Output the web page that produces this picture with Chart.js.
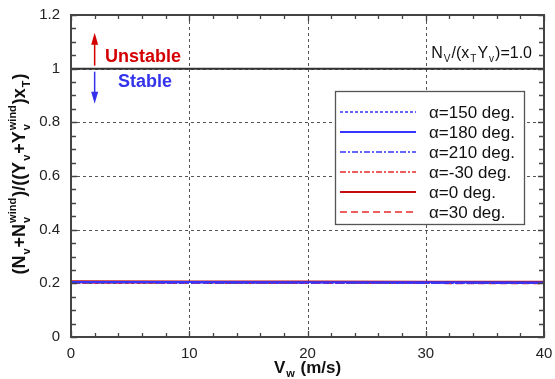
<!DOCTYPE html>
<html>
<head>
<meta charset="utf-8">
<script src="https://cdn.jsdelivr.net/npm/chart.js@4.4.1/dist/chart.umd.min.js"></script>
<style>
  html, body { margin: 0; padding: 0; background: #fff; }
  #wrap { width: 555px; height: 379px; position: relative; }
</style>
</head>
<body>
<div id="wrap"><canvas id="chart"></canvas></div>
<script>
// wind speed (m/s)
const windSpeed = [0, 10, 20, 30, 40];

const labels = ["\u03b1=150 deg.", "\u03b1=180 deg.", "\u03b1=210 deg.", "\u03b1=-30 deg.", "\u03b1=0 deg.", "\u03b1=30 deg."];
const alpha150 = [0.203, 0.202, 0.202, 0.201, 0.200];
const alpha180 = [0.205, 0.205, 0.204, 0.204, 0.203];
const alpha210 = [0.203, 0.202, 0.202, 0.201, 0.201];
const alphaM30 = [0.202, 0.202, 0.201, 0.201, 0.200];
const alpha0 = [0.208, 0.207, 0.207, 0.206, 0.206];
const alpha30 = [0.201, 0.201, 0.200, 0.200, 0.199];
const stabilityLimit = [1, 1, 1, 1, 1];

const xTicks = [0, 10, 20, 30, 40];
const yTicks = [0, 0.2, 0.4, 0.6, 0.8, 1, 1.2];

const BLUE = "#3535ff";
const RED = "#e82a2a";
const DARKRED = "#c40f0f";

function pts(values) {
  return windSpeed.map((x, i) => ({ x: x, y: values[i] }));
}

function series(label, values, color, dash, width) {
  return {
    label: label,
    data: pts(values),
    borderColor: color,
    backgroundColor: color,
    borderDash: dash,
    borderWidth: width,
    pointRadius: 0,
    tension: 0,
    fill: false,
  };
}

const datasets = [
  series(labels[0], alpha150, BLUE, [3, 2], 1.3),
  series(labels[1], alpha180, BLUE, [], 2),
  series(labels[2], alpha210, BLUE, [6, 2, 2, 2], 1.3),
  series(labels[3], alphaM30, RED, [6, 2, 2, 2], 1.3),
  series(labels[4], alpha0, DARKRED, [], 2),
  series(labels[5], alpha30, RED, [7, 4], 1.5),
  Object.assign(series("limit", stabilityLimit, "#333", [], 2), { inLegend: false }),
];

// draw text made of runs with sub/superscripts; returns width
function richText(ctx, parts, x, y, size, weight, measureOnly) {
  const small = Math.round(size * 0.62);
  let cx = x;
  parts.forEach((p) => {
    if (typeof p === "string") {
      ctx.font = `${weight} ${size}px "Liberation Sans", Arial, sans-serif`;
      if (!measureOnly) ctx.fillText(p, cx, y);
      cx += ctx.measureText(p).width;
    } else {
      ctx.font = `${weight} ${small}px "Liberation Sans", Arial, sans-serif`;
      let w = 0;
      if (p.sub) {
        if (!measureOnly) ctx.fillText(p.sub, cx + 1, y + size * 0.25);
        w = Math.max(w, ctx.measureText(p.sub).width);
      }
      if (p.sup) {
        if (!measureOnly) ctx.fillText(p.sup, cx + 1, y - size * 0.48);
        w = Math.max(w, ctx.measureText(p.sup).width);
      }
      cx += w + 2;
    }
  });
  return cx - x;
}

const framePlugin = {
  id: "frame",
  beforeDatasetsDraw(chart) {
    const { ctx, chartArea: a, scales } = chart;
    ctx.save();
    ctx.strokeStyle = "#555";
    ctx.lineWidth = 1;
    ctx.setLineDash([3, 3]);
    xTicks.slice(1, -1).forEach((v) => {
      const px = Math.round(scales.x.getPixelForValue(v)) + 0.5;
      ctx.beginPath(); ctx.moveTo(px, a.top); ctx.lineTo(px, a.bottom); ctx.stroke();
    });
    yTicks.slice(1, -1).forEach((v) => {
      const py = Math.round(scales.y.getPixelForValue(v)) + 0.5;
      ctx.beginPath(); ctx.moveTo(a.left, py); ctx.lineTo(a.right, py); ctx.stroke();
    });
    ctx.restore();
  },
  afterDatasetsDraw(chart) {
    const { ctx, chartArea: a, scales } = chart;
    ctx.save();
    ctx.strokeStyle = "#444";
    ctx.lineWidth = 1.3;
    // minor ticks, inward
    for (let v = 0; v <= 40.001; v += 2) {
      const px = Math.round(scales.x.getPixelForValue(v)) + 0.5;
      const len = v % 10 === 0 ? 6 : 4;
      ctx.beginPath();
      ctx.moveTo(px, a.bottom); ctx.lineTo(px, a.bottom - len);
      ctx.moveTo(px, a.top); ctx.lineTo(px, a.top + len);
      ctx.stroke();
    }
    for (let v = 0; v <= 1.2001; v += 0.05) {
      const py = Math.round(scales.y.getPixelForValue(v)) + 0.5;
      const len = Math.abs(v * 5 - Math.round(v * 5)) < 1e-6 ? 6 : 5;
      ctx.beginPath();
      ctx.moveTo(a.left, py); ctx.lineTo(a.left + len, py);
      ctx.moveTo(a.right, py); ctx.lineTo(a.right - len, py);
      ctx.stroke();
    }
    ctx.lineWidth = 2;
    ctx.strokeRect(a.left, a.top, a.right - a.left, a.bottom - a.top);
    ctx.restore();
  },
  afterDraw(chart) {
    const { ctx, chartArea: a, scales } = chart;
    ctx.save();
    ctx.fillStyle = "#111";
    ctx.textBaseline = "alphabetic";

    // x axis title
    const xt = ["V", { sub: "w" }, " (m/s)"];
    const xw = richText(ctx, xt, 0, 0, 17, "bold", true);
    richText(ctx, xt, (a.left + a.right) / 2 - xw / 2, 373, 17, "bold");

    // y axis title
    const yt = ["(N", { sub: "v" }, "+N", { sub: "v", sup: "wind" }, ")/((Y", { sub: "v" }, "+Y",
      { sub: "v", sup: "wind" }, ")x", { sub: "T" }, ")"];
    const yw = richText(ctx, yt, 0, 0, 18, "bold", true);
    ctx.save();
    ctx.translate(25, 174);
    ctx.rotate(-Math.PI / 2);
    richText(ctx, yt, -yw / 2, 0, 18, "bold");
    ctx.restore();

    // top-right note
    const nt = ["N", { sub: "V" }, "/(x", { sub: "T" }, "Y", { sub: "v" }, ")=1.0"];
    const nw = richText(ctx, nt, 0, 0, 16, "normal", true);
    richText(ctx, nt, 532 - nw, 58, 16, "normal");

    // stability labels and arrows
    const ax = scales.x.getPixelForValue(2);
    const y1 = scales.y.getPixelForValue(1);
    ctx.font = 'bold 18px "Liberation Sans", Arial, sans-serif';
    ctx.textAlign = "center";
    ctx.fillStyle = "#d40000";
    ctx.fillText("Unstable", 143, 62);
    ctx.fillStyle = "#3333ee";
    ctx.fillText("Stable", 145, 87);

    ctx.lineWidth = 1.5;
    ctx.strokeStyle = "#d40000"; ctx.fillStyle = "#d40000";
    ctx.beginPath(); ctx.moveTo(ax, y1 - 3); ctx.lineTo(ax, y1 - 28); ctx.stroke();
    ctx.beginPath(); ctx.moveTo(ax, y1 - 36); ctx.lineTo(ax - 3.5, y1 - 24); ctx.lineTo(ax + 3.5, y1 - 24); ctx.closePath(); ctx.fill();
    ctx.strokeStyle = "#3333ee"; ctx.fillStyle = "#3333ee";
    ctx.beginPath(); ctx.moveTo(ax, y1 + 3); ctx.lineTo(ax, y1 + 28); ctx.stroke();
    ctx.beginPath(); ctx.moveTo(ax, y1 + 35); ctx.lineTo(ax - 3.5, y1 + 23); ctx.lineTo(ax + 3.5, y1 + 23); ctx.closePath(); ctx.fill();

    // legend box
    const bx = 335, by = 91, bw = 189, bh = 133;
    ctx.fillStyle = "#fff";
    ctx.fillRect(bx, by, bw, bh);
    ctx.strokeStyle = "#555";
    ctx.lineWidth = 1.3;
    ctx.strokeRect(bx + 0.5, by + 0.5, bw, bh);
    ctx.textAlign = "left";
    ctx.textBaseline = "middle";
    ctx.font = '17px "Liberation Sans", Arial, sans-serif';
    chart.data.datasets.filter((d) => d.inLegend !== false).forEach((d, i) => {
      const ry = by + 21 + i * 20;
      ctx.strokeStyle = d.borderColor;
      ctx.lineWidth = d.borderWidth;
      ctx.setLineDash(d.borderDash);
      ctx.beginPath(); ctx.moveTo(340, ry); ctx.lineTo(416, ry); ctx.stroke();
      ctx.setLineDash([]);
      ctx.fillStyle = "#111";
      ctx.fillText(d.label, 429, ry + 1);
    });
    ctx.restore();
  },
};

new Chart(document.getElementById("chart"), {
  type: "line",
  data: { datasets: datasets },
  options: {
    responsive: true,
    maintainAspectRatio: false,
    animation: false,
    layout: { padding: { top: 15, right: 11, left: 0, bottom: 0 } },
    plugins: { legend: { display: false }, tooltip: { enabled: false } },
    scales: {
      x: {
        type: "linear",
        min: 0,
        max: 40,
        grid: { display: false },
        border: { display: false },
        ticks: {
          stepSize: 10,
          padding: 0,
          color: "#222",
          font: { family: '"Liberation Sans", Arial, sans-serif', size: 15 },
        },
        afterFit(scale) { scale.height = 42; },
      },
      y: {
        min: 0,
        max: 1.2,
        grid: { display: false },
        border: { display: false },
        ticks: {
          stepSize: 0.2,
          padding: 3,
          color: "#222",
          font: { family: '"Liberation Sans", Arial, sans-serif', size: 15 },
          callback: (v) => String(+v.toFixed(1)),
        },
        afterFit(scale) { scale.width = 71; },
      },
    },
  },
  plugins: [framePlugin],
});
</script>
</body>
</html>
